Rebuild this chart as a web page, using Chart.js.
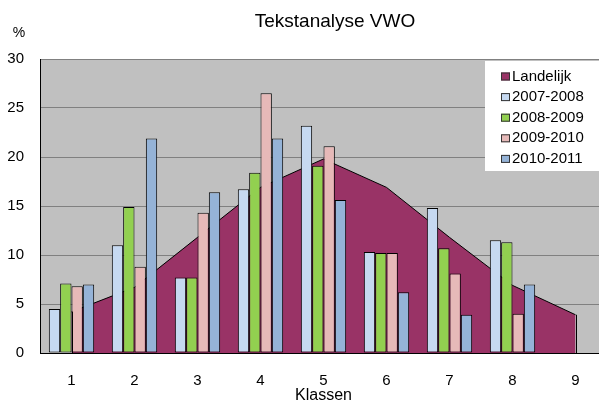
<!DOCTYPE html>
<html>
<head>
<meta charset="utf-8">
<script src="https://cdn.jsdelivr.net/npm/chart.js@4/dist/chart.umd.min.js"></script>
<style>
  html, body { margin: 0; padding: 0; background: #fff; overflow: hidden; }
  #wrap { width: 612px; height: 403px; }
</style>
</head>
<body>
<div id="wrap"><canvas id="chart"></canvas></div>
<script>
// values
const klassen = ['1', '2', '3', '4', '5', '6', '7', '8', '9'];
const landelijk = [4.2, 6.7, 11.8, 16.9, 19.8, 16.9, 11.8, 6.9, 3.9];
const jaar0708 = [4.5, 11.0, 7.7, 16.7, 23.2, 10.3, 14.8, 11.5, null];
const jaar0809 = [7.1, 14.9, 7.7, 18.4, 19.1, 10.2, 10.7, 11.3, null];
const jaar0910 = [6.8, 8.8, 14.3, 26.5, 21.1, 10.2, 8.1, 4.0, null];
const jaar1011 = [7.0, 21.9, 16.4, 21.9, 15.6, 6.2, 3.9, 7.0, null];
const seriesNames = ['Landelijk', '2007-2008', '2008-2009', '2009-2010', '2010-2011'];
const seriesColors = ['#993366', '#C6D9F1', '#92D050', '#E6B9B8', '#95B3D7'];

const FONT = '"Liberation Sans", Arial, sans-serif';

function bars(i, data) {
  return {
    type: 'bar',
    label: seriesNames[i],
    data: data,
    backgroundColor: seriesColors[i],
    borderColor: '#000',
    borderWidth: 1,
    borderSkipped: false,
    inflateAmount: 0,
    categoryPercentage: 0.72,
    barPercentage: 1.0,
    order: 1
  };
}

// grey plot background, area edges, legend box, title and unit label
const decor = {
  id: 'decor',
  beforeDraw(chart) {
    const { ctx, chartArea: a } = chart;
    ctx.save();
    ctx.fillStyle = '#C0C0C0';
    ctx.fillRect(a.left, a.top, a.right - a.left, a.bottom - a.top);
    ctx.restore();
  },
  afterDatasetsDraw(chart) {
    const { ctx } = chart;
    const pts = chart.getDatasetMeta(0).data;
    const base = chart.scales.y.getPixelForValue(0);

    ctx.save();
    // vertical ends of the Landelijk area
    ctx.strokeStyle = '#000';
    ctx.lineWidth = 1;
    [pts[0], pts[pts.length - 1]].forEach(p => {
      ctx.beginPath();
      ctx.moveTo(Math.round(p.x) + 0.5, p.y);
      ctx.lineTo(Math.round(p.x) + 0.5, base);
      ctx.stroke();
    });

    // legend
    const lx = 485, ly = 61, lh = 110;
    ctx.fillStyle = '#fff';
    ctx.fillRect(lx, ly, chart.width - lx, lh);
    ctx.font = '15px ' + FONT;
    ctx.textBaseline = 'middle';
    ctx.textAlign = 'left';
    seriesNames.forEach((name, i) => {
      const cy = 75.5 + i * 20.6;
      ctx.fillStyle = seriesColors[i];
      ctx.fillRect(501, cy - 3, 9, 8);
      ctx.strokeStyle = '#333';
      ctx.strokeRect(501.5, cy - 2.5, 8, 7);
      ctx.fillStyle = '#000';
      ctx.fillText(name, 512, cy + 1);
    });

    // title and unit
    ctx.fillStyle = '#000';
    ctx.textBaseline = 'alphabetic';
    ctx.textAlign = 'center';
    ctx.font = '19px ' + FONT;
    ctx.fillText('Tekstanalyse VWO', 335, 27);
    ctx.font = '14px ' + FONT;
    ctx.fillText('%', 19, 37);
    ctx.restore();
  }
};

new Chart(document.getElementById('chart'), {
  type: 'bar',
  data: {
    labels: klassen,
    datasets: [
      {
        type: 'line',
        label: seriesNames[0],
        data: landelijk,
        fill: 'origin',
        backgroundColor: seriesColors[0],
        borderColor: '#000',
        borderWidth: 1,
        pointRadius: 0,
        tension: 0,
        order: 10
      },
      bars(1, jaar0708),
      bars(2, jaar0809),
      bars(3, jaar0910),
      bars(4, jaar1011)
    ]
  },
  options: {
    responsive: true,
    maintainAspectRatio: false,
    animation: false,
    devicePixelRatio: 1,
    layout: { padding: { top: 59, right: 5, bottom: 0, left: 0 } },
    plugins: {
      legend: { display: false },
      title: { display: false },
      tooltip: { enabled: false }
    },
    scales: {
      x: {
        offset: true,
        grid: { display: false, drawTicks: false },
        border: { display: true, color: '#000', width: 1 },
        ticks: { color: '#000', font: { family: FONT, size: 15 }, padding: 19, maxRotation: 0, autoSkip: false },
        title: { display: true, text: 'Klassen', color: '#000', font: { family: FONT, size: 16 }, padding: { top: 0, bottom: -2 } },
        afterFit(scale) { scale.height = 50; }
      },
      y: {
        min: 0,
        max: 30,
        ticks: { stepSize: 5, color: '#000', font: { family: FONT, size: 15 }, padding: 16 },
        grid: { color: '#808080', lineWidth: 1, drawTicks: false },
        border: { display: true, color: '#000', width: 1 },
        afterFit(scale) { scale.width = 40; }
      }
    }
  },
  plugins: [decor]
});
</script>
</body>
</html>
